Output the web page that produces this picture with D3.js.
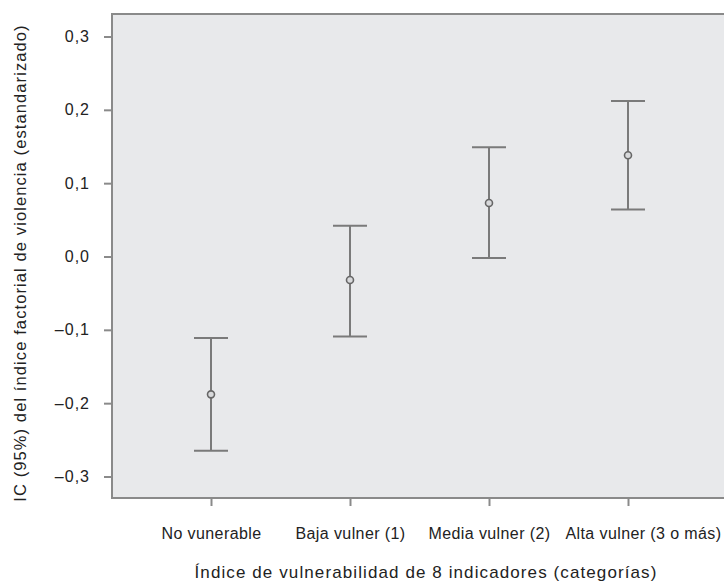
<!DOCTYPE html>
<html>
<head>
<meta charset="utf-8">
<script src="https://cdn.jsdelivr.net/npm/d3@7"></script>
<style>
  body { margin: 0; background: #fff; }
  svg { font-family: "Liberation Sans", Arial, sans-serif; }
</style>
</head>
<body>
<div id="chart"></div>
<script>
// categories and 95% CI of the standardized violence index
var categories = ["No vunerable", "Baja vulner (1)", "Media vulner (2)", "Alta vulner (3 o más)"];
var means = [-0.188, -0.032, 0.073, 0.138];
var lower = [-0.265, -0.109, -0.002, 0.064];
var upper = [-0.111, 0.042, 0.149, 0.212];
var yTicks = [-0.3, -0.2, -0.1, 0.0, 0.1, 0.2, 0.3];

var width = 724, height = 584;
var svg = d3.select("#chart").append("svg").attr("width", width).attr("height", height);

var plot = {left: 112, top: 14, right: 740, bottom: 498};
var grey = "#7a7a7a";

var x = d3.scalePoint().domain(categories).range([211, 628]);
var y = d3.scaleLinear().domain([-0.3, 0.3]).range([476.5, 36.5]);

var rows = categories.map(function(c, i) {
  return {cat: c, mean: means[i], lo: lower[i], hi: upper[i]};
});

// plot background
svg.append("rect")
  .attr("x", plot.left).attr("y", plot.top)
  .attr("width", plot.right - plot.left).attr("height", plot.bottom - plot.top)
  .attr("fill", "#e8e9eb")
  .attr("stroke", "#8a8a8a")
  .attr("stroke-width", 2);

function fmt(d) {
  return d3.format(".1f")(d).replace(".", ",").replace("−", "–").replace("-", "–");
}

// y axis
var yAxis = svg.append("g")
  .attr("transform", "translate(" + plot.left + ",0)")
  .call(d3.axisLeft(y).tickValues(yTicks).tickFormat(fmt).tickSize(8).tickPadding(14));
yAxis.select(".domain").remove();
yAxis.selectAll(".tick line").attr("stroke", "#8a8a8a").attr("stroke-width", 2);
yAxis.selectAll(".tick text").attr("fill", "#222")
  .style("font-size", "16px").style("letter-spacing", "1px");

// x axis
var xAxis = svg.append("g")
  .attr("transform", "translate(0," + plot.bottom + ")")
  .call(d3.axisBottom(x).tickSize(8).tickPadding(22));
xAxis.select(".domain").remove();
xAxis.selectAll(".tick line").attr("stroke", "#8a8a8a").attr("stroke-width", 2);
xAxis.selectAll(".tick text").attr("fill", "#222")
  .style("font-size", "16px").style("letter-spacing", "0.4px");
// last label sits flush against the right edge, as in the original
xAxis.selectAll(".tick text").filter(function(d, i) { return i === categories.length - 1; })
  .attr("text-anchor", "end").attr("x", 93);

// error bars
var bars = svg.append("g").selectAll("g")
  .data(rows)
  .enter().append("g");

bars.append("line")
  .attr("x1", function(d) { return x(d.cat); })
  .attr("x2", function(d) { return x(d.cat); })
  .attr("y1", function(d) { return y(d.hi); })
  .attr("y2", function(d) { return y(d.lo); })
  .attr("stroke", grey).attr("stroke-width", 2);

bars.selectAll(".cap")
  .data(function(d) { return [{cat: d.cat, v: d.hi}, {cat: d.cat, v: d.lo}]; })
  .enter().append("line")
  .attr("class", "cap")
  .attr("x1", function(d) { return x(d.cat) - 17; })
  .attr("x2", function(d) { return x(d.cat) + 17; })
  .attr("y1", function(d) { return y(d.v); })
  .attr("y2", function(d) { return y(d.v); })
  .attr("stroke", grey).attr("stroke-width", 2);

bars.append("circle")
  .attr("cx", function(d) { return x(d.cat); })
  .attr("cy", function(d) { return y(d.mean); })
  .attr("r", 3.5)
  .attr("fill", "#d8d9db")
  .attr("stroke", "#666")
  .attr("stroke-width", 1.6);

// axis titles
svg.append("text")
  .attr("x", 426).attr("y", 578)
  .attr("text-anchor", "middle")
  .attr("fill", "#222")
  .style("font-size", "17px").style("letter-spacing", "1.1px")
  .text("Índice de vulnerabilidad de 8 indicadores (categorías)");

svg.append("text")
  .attr("transform", "translate(26,263) rotate(-90)")
  .attr("text-anchor", "middle")
  .attr("fill", "#222")
  .style("font-size", "16.5px").style("letter-spacing", "1.1px")
  .text("IC (95%) del índice factorial de violencia (estandarizado)");
</script>
</body>
</html>
